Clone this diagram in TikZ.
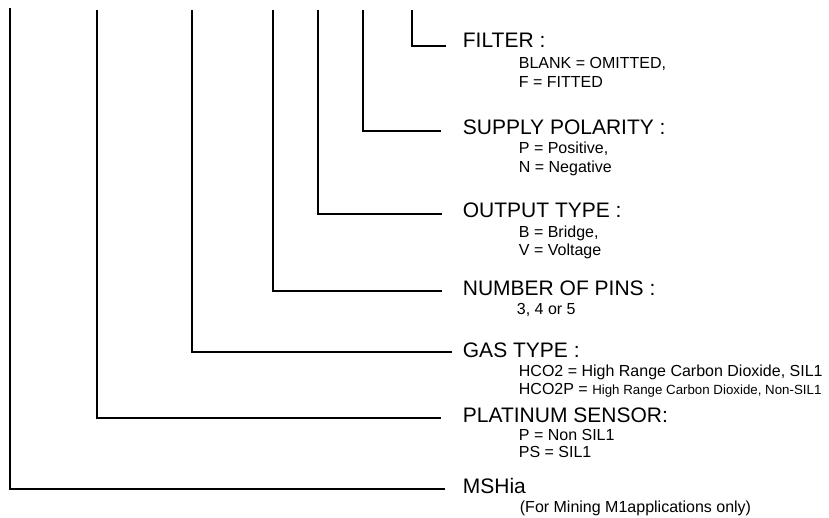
\documentclass[tikz,border=0pt]{standalone}
\usepackage{fontspec}
\setmainfont{Liberation Sans}
\usetikzlibrary{positioning}

\begin{document}
\begin{tikzpicture}[x=1pt,y=-1pt,line width=1.8pt,
	head/.style={anchor=base west,inner sep=0pt,font=\fontsize{21}{24}\selectfont},
	sub/.style={anchor=base west,inner sep=0pt,font=\fontsize{16}{18}\selectfont},
	conn/.style={draw,line cap=butt}]

	\useasboundingbox (0,0) rectangle (829,518);

	% free ends at the top
	\coordinate (t1) at (412,10);
	\coordinate (t2) at (363,10);
	\coordinate (t3) at (318,10);
	\coordinate (t4) at (273,10);
	\coordinate (t5) at (192,10);
	\coordinate (t6) at (97,10);
	\coordinate (t7) at (10,8);

	% headings
	\node[head] (fil) at (462,48) {FILTER :};
	\node[head] (pol) at (462,135) {SUPPLY POLARITY :};
	\node[head] (out) at (462,218) {OUTPUT TYPE :};
	\node[head] (pin) at (462,295) {NUMBER OF PINS :};
	\node[head] (gas) at (462,357) {GAS TYPE :};
	\node[head] (pla) at (462,422) {PLATINUM SENSOR:};
	\node[head] (msh) at (462,493) {MSHia};

	% options
	\node[sub] (fil1) at (518,69) {BLANK = OMITTED,};
	\node[sub] (fil2) at (518,88) {F = FITTED};
	\node[sub] (pol1) at (518,154) {P = Positive,};
	\node[sub] (pol2) at (518,173) {N = Negative};
	\node[sub] (out1) at (518,238) {B = Bridge,};
	\node[sub] (out2) at (518,256) {V = Voltage};
	\node[sub] (pin1) at (516,315) {3, 4 or 5};
	\node[sub] (gas1) at (518,376) {HCO2 = High Range Carbon Dioxide, SIL1};
	\node[sub] (gas2) at (518,394) {HCO2P = {\fontsize{13.3}{16}\selectfont High Range Carbon Dioxide, Non-SIL1}};
	\node[sub] (pla1) at (518,440) {P = Non SIL1};
	\node[sub] (pla2) at (518,457) {PS = SIL1};
	\node[sub] (msh1) at (519,512) {(For Mining M1applications only)};

	% connectors
	\path[conn] (t1) |- ([shift={(-16,-2)}]fil.base west);
	\path[conn] (t2) |- ([shift={(-21,-4)}]pol.base west);
	\path[conn] (t3) |- ([shift={(-20,-4)}]out.base west);
	\path[conn] (t4) |- ([shift={(-20,-4)}]pin.base west);
	\path[conn] (t5) |- ([shift={(-10,-5)}]gas.base west);
	\path[conn] (t6) |- ([shift={(-21,-4)}]pla.base west);
	\path[conn] (t7) |- ([shift={(-17,-4)}]msh.base west);
\end{tikzpicture}
\end{document}
